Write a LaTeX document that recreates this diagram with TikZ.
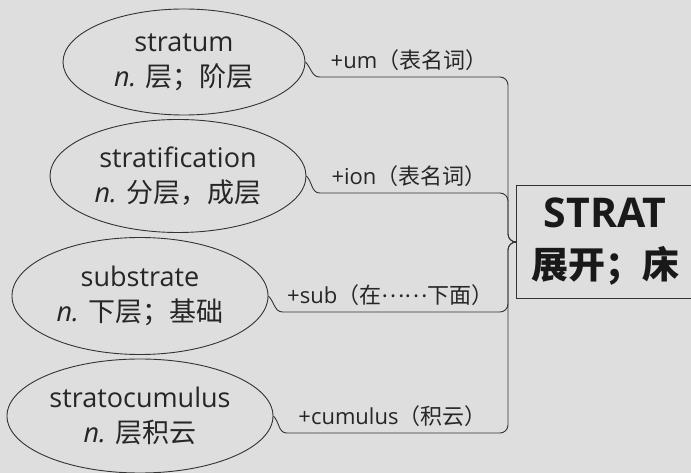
\documentclass[tikz,border=0pt]{standalone}
\usepackage{fontspec}
\setmainfont{Open Sans}
\newfontfamily\cjk{Noto Sans CJK SC}
\usetikzlibrary{shapes.geometric}

\begin{document}
\begin{tikzpicture}[x=1pt,y=-1pt,
  word/.style={ellipse,draw=black!80,line width=0.9pt,inner sep=0pt,align=center,
    font=\fontsize{27}{35}\selectfont,text=black!85},
  affix/.style={inner xsep=0pt,inner ysep=8pt,text depth=0pt,anchor=south,
    font=\fontsize{22}{25}\selectfont,text=black!85},
  link/.style={draw=black!80,line width=0.9pt},
  rootbox/.style={rectangle,draw=black!80,line width=1pt,minimum width=178pt,minimum height=113pt,
    align=center,font=\fontsize{37}{51}\selectfont\bfseries,text=black!90}]
  \useasboundingbox (0,0) rectangle (691,473);
  \fill[black!13] (0,0) rectangle (691,473);
  % root
  \node[rootbox] (root) at (605,242) {{\fontsize{41}{51}\selectfont STRAT}\\\cjk 展开；床};
  \coordinate (hub) at (508,242);
  % words
  \node[word,minimum width=242pt,minimum height=106pt] (w1) at (184,62) {stratum\\\textit{n.} \cjk 层；阶层};
  \node[word,minimum width=256pt,minimum height=113pt] (w2) at (178,176) {stratification\\\textit{n.} \cjk 分层，成层};
  \node[word,minimum width=256pt,minimum height=117pt] (w3) at (140,296) {substrate\\\textit{n.} \cjk 下层；基础};
  \node[word,minimum width=266pt,minimum height=114pt] (w4) at (140,416) {stratocumulus\\\textit{n.} \cjk 层积云};
  % affixes
  \node[affix,minimum width=178pt] (a1) at (409,77) {+um\cjk（表名词）};
  \node[affix,minimum width=178pt] (a2) at (409,193) {+ion\cjk（表名词）};
  \node[affix,minimum width=215pt] (a3) at (390.5,312) {+sub\cjk（在\raisebox{0.3em}{……}下面）};
  \node[affix,minimum width=211pt] (a4) at (392.5,433) {+cumulus\cjk（积云）};
  \foreach \i in {1,...,4} {
    \draw[link] (w\i.east) to[out=-45,in=180] (a\i.south west) -- (a\i.south east);
    \draw[link,rounded corners=8pt] (a\i.south east) -| (hub) -- (root.west);
  }
\end{tikzpicture}
\end{document}
